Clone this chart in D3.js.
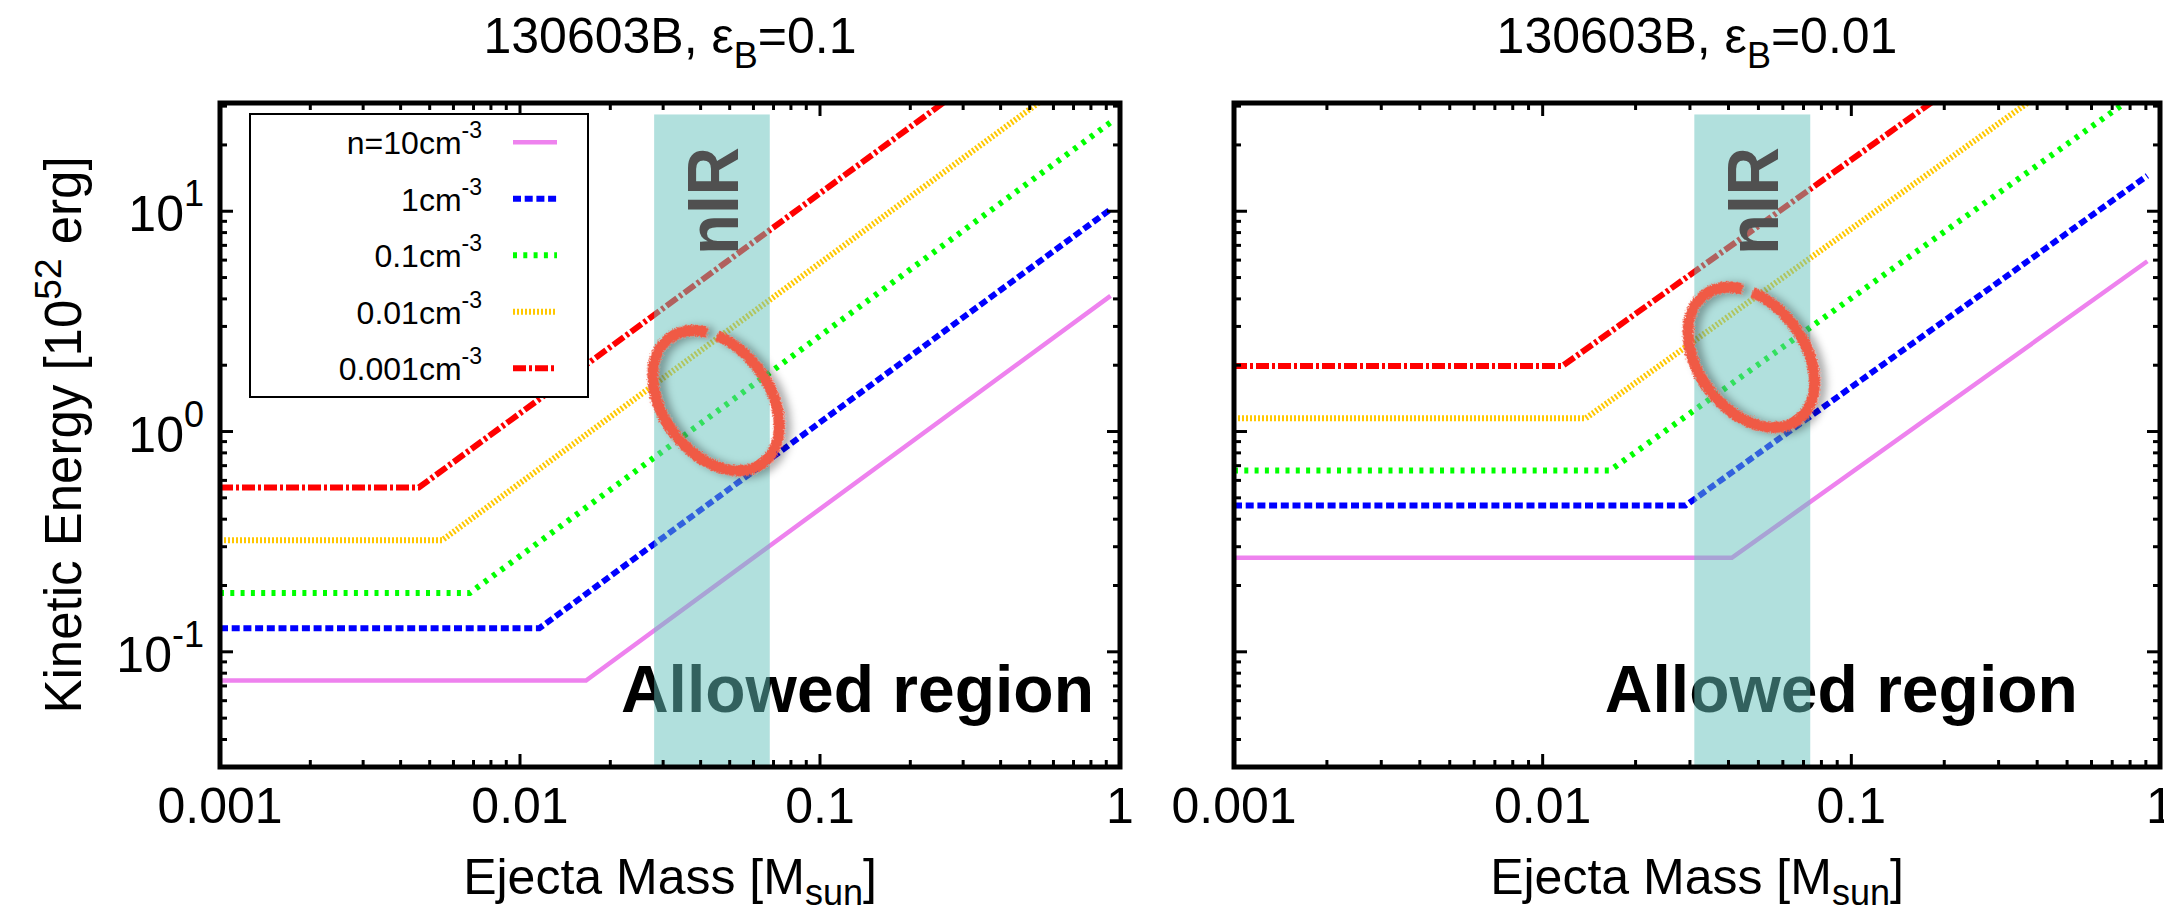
<!DOCTYPE html>
<html>
<head>
<meta charset="utf-8">
<script src="https://cdn.jsdelivr.net/npm/d3@7"></script>
<style>
  body { margin: 0; background: #fff; }
  text { font-family: "Liberation Sans", Arial, Helvetica, sans-serif; fill: #000; }
</style>
</head>
<body>
<svg id="chart" width="2164" height="913"></svg>
<script>
'use strict';

// legend labels, one per ambient density (cm^-3)
const densityLabels = ['n=10cm', '1cm', '0.1cm', '0.01cm', '0.001cm'];

// eps_B = 0.1 panel: plateau energy, mass where the rise starts, energy at the last mass
const plateauB01 = [0.074, 0.128, 0.185, 0.321, 0.557];
const kinkB01 = [0.0166, 0.0116, 0.0068, 0.0055, 0.0046];
const endB01 = [4.13, 10.2, 25.3, 54, 112];
const lastMassB01 = 0.93;

// eps_B = 0.01 panel
const plateauB001 = [0.267, 0.461, 0.665, 1.149, 1.986];
const kinkB001 = [0.041, 0.029, 0.0165, 0.0138, 0.0116];
const endB001 = [5.93, 14.5, 36.7, 75.9, 156];
const lastMassB001 = 0.91;

// nIR band in ejecta mass [M_sun], and its top in energy
const nirB01 = [0.028, 0.068];
const nirB001 = [0.031, 0.0736];
const nirTop = 27.5;

// hand drawn circle centres [mass, energy]
const circleB01 = [0.045, 1.38];
const circleB001 = [0.0474, 2.17];

// "Allowed region" anchor [mass, energy]
const allowedB01 = [0.0217, 0.0534];
const allowedB001 = [0.0159, 0.0534];

const xDomain = [0.001, 1];
const yDomain = [0.03, 31];
const xTicks = [0.001, 0.01, 0.1, 1];
const xTickLabels = ['0.001', '0.01', '0.1', '1'];
const yTicks = [0.1, 1, 10];
const yTickExponents = ['-1', '0', '1'];

const styles = [
  { color: '#ee82ee', dash: null, width: 4.5 },
  { color: '#0000ff', dash: '8,3.7', width: 6 },
  { color: '#00ff00', dash: '4,6.3', width: 6 },
  { color: '#ffc800', dash: '2,2', width: 6 },
  { color: '#ff0000', dash: '13,3,3,3', width: 6 }
];

const plotTop = 103, plotBottom = 767;

const panels = [
  { eps: '0.1', plateau: plateauB01, kink: kinkB01, end: endB01, lastMass: lastMassB01,
    nir: nirB01, circle: circleB01, allowed: allowedB01, left: 220, right: 1120, axisLabels: true },
  { eps: '0.01', plateau: plateauB001, kink: kinkB001, end: endB001, lastMass: lastMassB001,
    nir: nirB001, circle: circleB001, allowed: allowedB001, left: 1234, right: 2160, axisLabels: false }
];

const svg = d3.select('#chart');
svg.append('rect').attr('width', 2164).attr('height', 913).attr('fill', '#fff');
const defs = svg.append('defs');

// rough marker look + soft shadow for the circles
const rough = defs.append('filter').attr('id', 'rough')
  .attr('x', '-30%').attr('y', '-30%').attr('width', '160%').attr('height', '160%');
rough.append('feTurbulence').attr('type', 'fractalNoise').attr('baseFrequency', 0.8)
  .attr('numOctaves', 2).attr('seed', 3).attr('result', 'noise');
rough.append('feDisplacementMap').attr('in', 'SourceGraphic').attr('in2', 'noise')
  .attr('scale', 5).attr('xChannelSelector', 'R').attr('yChannelSelector', 'G').attr('result', 'r');
rough.append('feDropShadow').attr('in', 'r').attr('dx', 4).attr('dy', 5)
  .attr('stdDeviation', 4).attr('flood-color', '#000').attr('flood-opacity', 0.35);

function ellipsePerimeter(a, b) {
  return Math.PI * (3 * (a + b) - Math.sqrt((3 * a + b) * (a + 3 * b)));
}

panels.forEach((p, idx) => {
  const x = d3.scaleLog().domain(xDomain).range([p.left, p.right]);
  const y = d3.scaleLog().domain(yDomain).range([plotBottom, plotTop]);
  const cx = (p.left + p.right) / 2;

  defs.append('clipPath').attr('id', 'clip' + idx)
    .append('rect').attr('x', p.left).attr('y', plotTop)
    .attr('width', p.right - p.left).attr('height', plotBottom - plotTop);

  const plot = svg.append('g').attr('clip-path', 'url(#clip' + idx + ')');

  // curves
  const line = d3.line().x(d => x(d[0])).y(d => y(d[1]));
  p.plateau.forEach((e0, i) => {
    const pts = [[xDomain[0], e0], [p.kink[i], e0], [p.lastMass, p.end[i]]];
    plot.append('path')
      .attr('d', line(pts))
      .attr('fill', 'none')
      .attr('stroke', styles[i].color)
      .attr('stroke-width', styles[i].width)
      .attr('stroke-dasharray', styles[i].dash);
  });

  // Allowed region label
  plot.append('text')
    .attr('x', x(p.allowed[0])).attr('y', y(p.allowed[1]))
    .attr('font-size', 66).attr('font-weight', 'bold')
    .text('Allowed region');

  // nIR band on top of the curves
  plot.append('rect')
    .attr('x', x(p.nir[0])).attr('y', y(nirTop))
    .attr('width', x(p.nir[1]) - x(p.nir[0]))
    .attr('height', plotBottom - y(nirTop))
    .attr('fill', '#63c1bb').attr('opacity', 0.5);

  const nirX = x(Math.sqrt(p.nir[0] * p.nir[1]));
  plot.append('text')
    .attr('transform', 'translate(' + nirX + ',' + 201 + ') rotate(-90)')
    .attr('text-anchor', 'middle').attr('dy', '0.36em')
    .attr('font-size', 72).attr('font-weight', 'bold')
    .attr('textLength', 108).attr('lengthAdjust', 'spacingAndGlyphs')
    .style('fill', '#505050')
    .text('nIR');

  // hand drawn ellipse, with a small break near the top
  const ra = 78, rb = 53;
  const per = ellipsePerimeter(ra, rb);
  plot.append('ellipse')
    .attr('transform', 'translate(' + x(p.circle[0]) + ',' + y(p.circle[1]) + ') rotate(-37)')
    .attr('rx', rb).attr('ry', ra)
    .attr('fill', 'none')
    .attr('stroke', '#f05a44').attr('stroke-width', 11)
    .attr('stroke-dasharray', [per * 0.845, per * 0.025, per * 0.13, 0].join(','))
    .attr('filter', 'url(#rough)');

  // ticks on all four sides, pointing inward
  const xMinor = x.ticks().filter(t => !xTicks.some(m => Math.abs(m - t) < t * 1e-6));
  const yMinor = y.ticks().filter(t => !yTicks.some(m => Math.abs(m - t) < t * 1e-6));
  const tickG = svg.append('g').attr('stroke', '#000').attr('stroke-width', 3);
  [[xTicks, 13], [xMinor, 7]].forEach(([vals, len]) => {
    vals.forEach(v => {
      tickG.append('line').attr('x1', x(v)).attr('x2', x(v)).attr('y1', plotBottom).attr('y2', plotBottom - len);
      tickG.append('line').attr('x1', x(v)).attr('x2', x(v)).attr('y1', plotTop).attr('y2', plotTop + len);
    });
  });
  [[yTicks, 13], [yMinor, 7]].forEach(([vals, len]) => {
    vals.forEach(v => {
      tickG.append('line').attr('y1', y(v)).attr('y2', y(v)).attr('x1', p.left).attr('x2', p.left + len);
      tickG.append('line').attr('y1', y(v)).attr('y2', y(v)).attr('x1', p.right).attr('x2', p.right - len);
    });
  });

  // frame
  svg.append('rect')
    .attr('x', p.left).attr('y', plotTop)
    .attr('width', p.right - p.left).attr('height', plotBottom - plotTop)
    .attr('fill', 'none').attr('stroke', '#000').attr('stroke-width', 5);

  // x tick labels
  svg.append('g').selectAll('text')
    .data(xTicks)
    .enter().append('text')
    .attr('x', d => x(d)).attr('y', 823)
    .attr('text-anchor', 'middle').attr('font-size', 50)
    .text((d, i) => xTickLabels[i]);

  // x axis title
  const xt = svg.append('text').attr('x', cx).attr('y', 894)
    .attr('text-anchor', 'middle').attr('font-size', 50);
  xt.append('tspan').text('Ejecta Mass [M');
  xt.append('tspan').attr('font-size', 36).attr('dy', 11).text('sun');
  xt.append('tspan').attr('dy', -11).text(']');

  // panel title
  const tt = svg.append('text').attr('x', cx).attr('y', 53)
    .attr('text-anchor', 'middle').attr('font-size', 50);
  tt.append('tspan').text('130603B, \u03b5');
  tt.append('tspan').attr('font-size', 36).attr('dy', 15).text('B');
  tt.append('tspan').attr('dy', -15).text('=' + p.eps);

  if (p.axisLabels) {
    yTicks.forEach((v, i) => {
      const t = svg.append('text')
        .attr('x', 204).attr('y', y(v) + 20)
        .attr('text-anchor', 'end').attr('font-size', 50);
      t.append('tspan').text('10');
      t.append('tspan').attr('font-size', 36).attr('dy', -25).text(yTickExponents[i]);
    });

    const yt = svg.append('text')
      .attr('transform', 'translate(81,' + (plotTop + plotBottom) / 2 + ') rotate(-90)')
      .attr('text-anchor', 'middle').attr('font-size', 51);
    yt.append('tspan').text('Kinetic Energy [10');
    yt.append('tspan').attr('font-size', 37).attr('dy', -20).text('52');
    yt.append('tspan').attr('dy', 20).text(' erg]');

    // legend
    const lg = svg.append('g');
    lg.append('rect').attr('x', 250).attr('y', 114).attr('width', 338).attr('height', 283)
      .attr('fill', '#fff').attr('stroke', '#000').attr('stroke-width', 2);
    densityLabels.forEach((lab, i) => {
      const ry = 142.3 + i * 56.5;
      const t = lg.append('text').attr('x', 482).attr('y', ry + 12)
        .attr('text-anchor', 'end').attr('font-size', 32);
      t.append('tspan').text(lab);
      t.append('tspan').attr('font-size', 23).attr('dy', -16).text('-3');
      lg.append('line').attr('x1', 513).attr('x2', 557).attr('y1', ry).attr('y2', ry)
        .attr('stroke', styles[i].color).attr('stroke-width', styles[i].width)
        .attr('stroke-dasharray', styles[i].dash);
    });
  }
});
</script>
</body>
</html>
